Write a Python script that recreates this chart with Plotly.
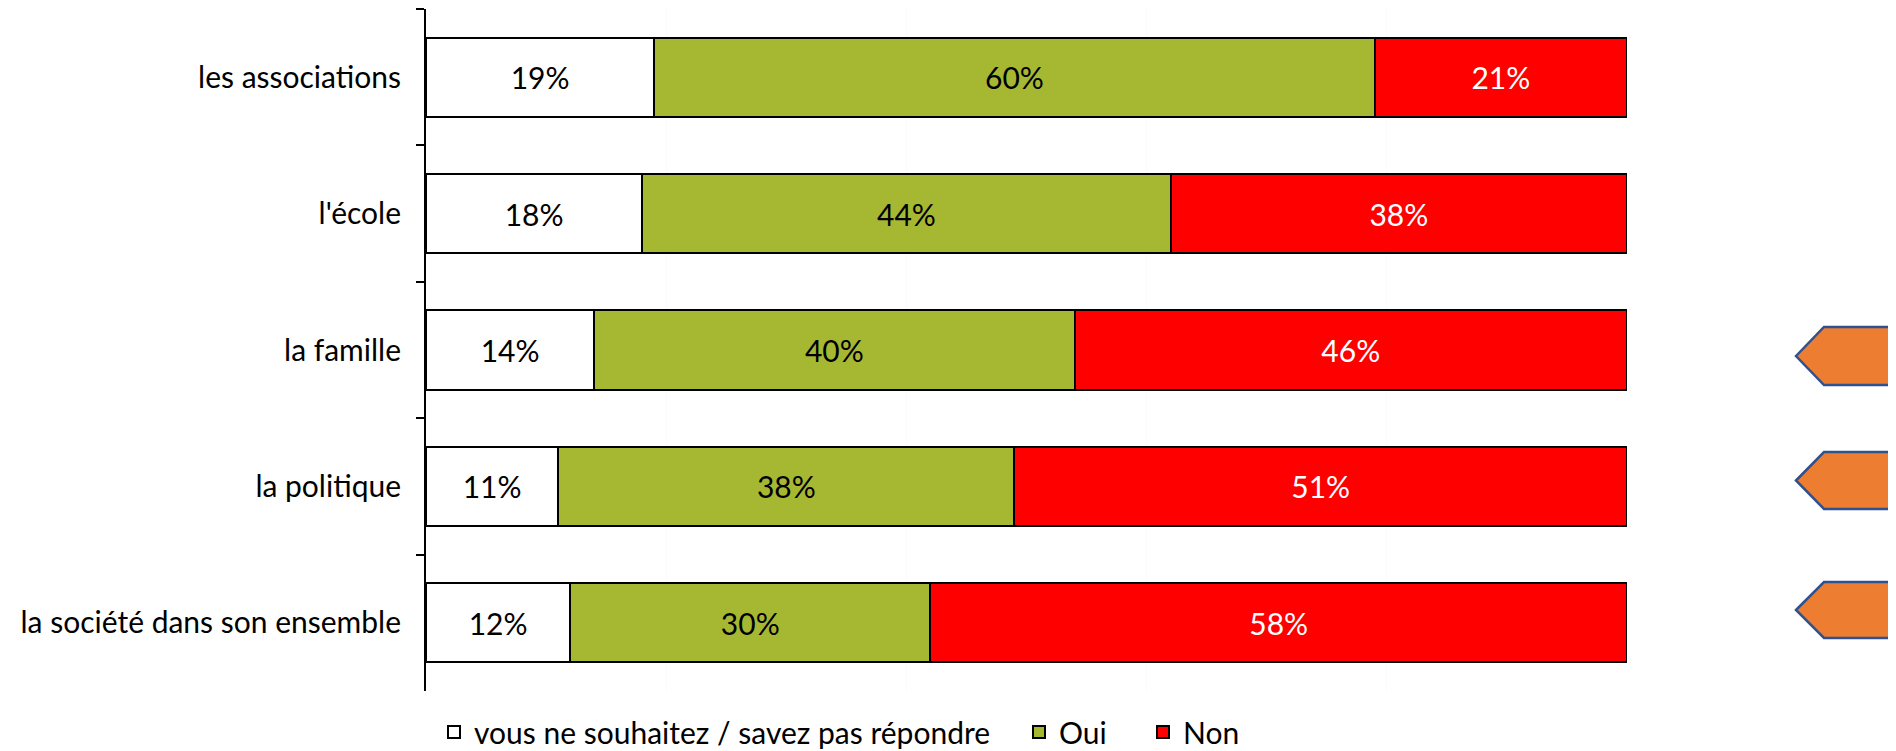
import plotly.graph_objects as go

categories = ["les associations", "l'école", "la famille", "la politique", "la société dans son ensemble"]
nsp = [19, 18, 14, 11, 12]
oui = [60, 44, 40, 38, 30]
non = [21, 38, 46, 51, 58]
series_names = ["vous ne souhaitez / savez pas répondre", "Oui", "Non"]
series_colors = ["#FFFFFF", "#A6B832", "#FF0000"]
label_colors = ["black", "black", "white"]

FONT = "Lato"
FS = 30
OFF = 8  # page body margin offset
W, H = 1896 - OFF, 751 - OFF
L, R, T, B = 426 - OFF, 269, 1, 60
plot_w = W - L - R
plot_h = H - T - B

def px_x(p):
    return (p - OFF - L) / plot_w

def px_y(p):
    return (H - B - (p - OFF)) / plot_h

fig = go.Figure()
legend_ids = ["legend", "legend2", "legend3"]
for name, vals, col, lc, lg in zip(series_names, [nsp, oui, non], series_colors, label_colors, legend_ids):
    fig.add_trace(go.Bar(
        y=categories, x=vals, name=name, orientation="h",
        marker=dict(color=col, line=dict(color="black", width=2)),
        text=[f"{v}%" for v in vals], textposition="inside",
        insidetextanchor="middle", textangle=0, constraintext="none",
        textfont=dict(family=FONT, size=FS, color=lc),
        legend=lg, hoverinfo="skip",
    ))

fig.update_layout(
    width=W, height=H,
    margin=dict(l=L, r=R, t=T, b=B, autoexpand=False),
    barmode="stack", bargap=0.42,
    plot_bgcolor="white", paper_bgcolor="white",
    font=dict(family=FONT, size=FS, color="black"),
    xaxis=dict(range=[0, 100], showticklabels=False, showgrid=True, dtick=20,
               gridcolor="#FAFAFA", zeroline=False, showline=False, ticks=""),
    yaxis=dict(type="category", autorange="reversed", tickson="boundaries",
               ticks="outside", ticklen=8, tickwidth=2, tickcolor="black",
               showline=True, linewidth=2, linecolor="black", showgrid=False,
               ticklabelstandoff=17, tickfont=dict(family=FONT, size=FS, color="black")),
    showlegend=True,
)

leg_common = dict(orientation="h", yanchor="middle", y=px_y(732), xanchor="left",
                  font=dict(family=FONT, size=FS, color="black"),
                  bgcolor="rgba(0,0,0,0)", borderwidth=0)
fig.update_layout(
    legend=dict(x=px_x(434), **leg_common),
    legend2=dict(x=px_x(1019), **leg_common),
    legend3=dict(x=px_x(1143), **leg_common),
)

# decorative orange arrow markers on the right
arrows = [(327, 385), (452, 509), (582, 638)]
for top, bot in arrows:
    mid = (top + bot) / 2
    path = (f"M {px_x(1796)},{px_y(mid)} L {px_x(1824)},{px_y(top)} L {px_x(1910)},{px_y(top)} "
            f"L {px_x(1910)},{px_y(bot)} L {px_x(1824)},{px_y(bot)} Z")
    fig.add_shape(type="path", xref="paper", yref="paper", path=path,
                  fillcolor="#ED7D31", line=dict(color="#2F528F", width=2.5), layer="above")

fig.write_html("out.html")
